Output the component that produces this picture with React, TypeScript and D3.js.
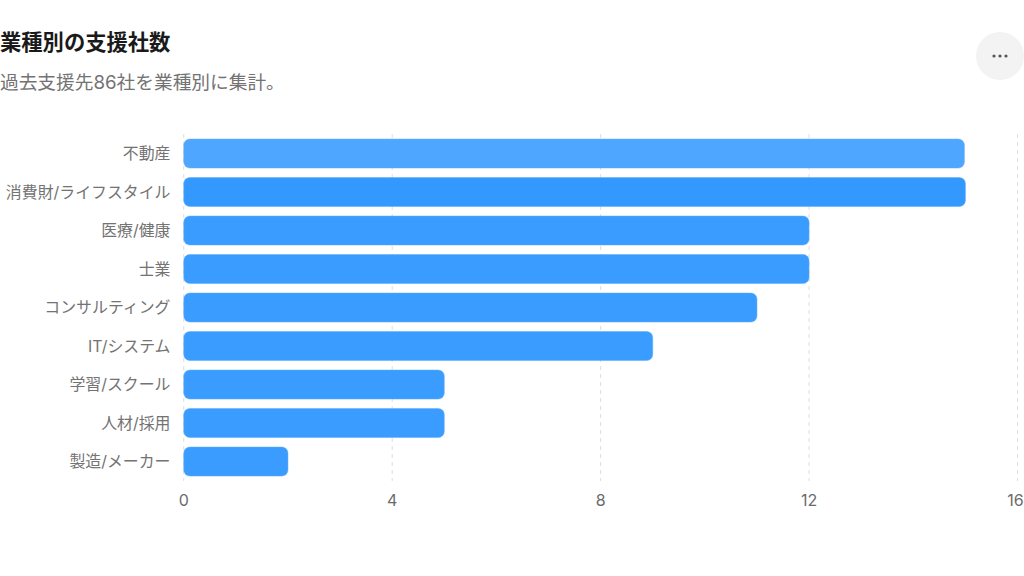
import React from "react";
import * as d3 from "d3";

const categories = ["不動産", "消費財/ライフスタイル", "医療/健康", "士業", "コンサルティング", "IT/システム", "学習/スクール", "人材/採用", "製造/メーカー"];
const values = [15, 15, 12, 12, 11, 9, 5, 5, 2];
const ticks = [0, 4, 8, 12, 16];
const barColors = ["#4fa6ff", "#3399ff", "#3a9cff", "#3a9cff", "#3a9cff", "#3a9cff", "#3a9cff", "#3a9cff", "#3a9cff"];
const FONT = "Inter,'Noto Sans CJK JP','Noto Sans',sans-serif";

export default function App() {
  const x = d3.scaleLinear().domain([0, 16]).range([183.75, 1017.5]);
  const y = d3.scaleBand<string>().domain(categories).range([134.3, 480.8]).paddingInner(0.247).paddingOuter(0.123);
  return (
    <svg width={1024} height={576} style={{ position: "fixed", left: 0, top: 0, background: "#fff", fontFamily: FONT }}>
      <text x={0} y={50} fontSize={21.3} fontWeight={600} fill="#1a1a1a">業種別の支援社数</text>
      <text x={0} y={89} fontSize={18.7} fill="#737373">過去支援先86社を業種別に集計。</text>
      <circle cx={1000} cy={56} r={24} fill="#f3f3f3" />
      {[-6, 0, 6].map((d) => <circle key={d} cx={1000 + d} cy={56} r={1.6} fill="#555" />)}
      {ticks.map((t) => (
        <g key={t}>
          <line x1={x(t)} x2={x(t)} y1={134} y2={481} stroke="#dedede" strokeDasharray="4 4" />
          <text x={t === 16 ? x(t) - 2 : x(t)} y={506} fontSize={16} fill="#6b6b6b" textAnchor="middle">{t}</text>
        </g>
      ))}
      {categories.map((c, i) => (
        <g key={c}>
          <text x={170.5} y={y(c)! + y.bandwidth() / 2 + 5.7} fontSize={15.9} fill="#737373" textAnchor="end">{c}</text>
          <rect x={x(0)} y={y(c)} width={x(values[i]) - x(0) - (i === 0 ? 1 : 0)} height={y.bandwidth()} rx={6} fill={barColors[i]} stroke="#5aaeff" strokeOpacity={0.5} strokeWidth={1} />
        </g>
      ))}
    </svg>
  );
}
